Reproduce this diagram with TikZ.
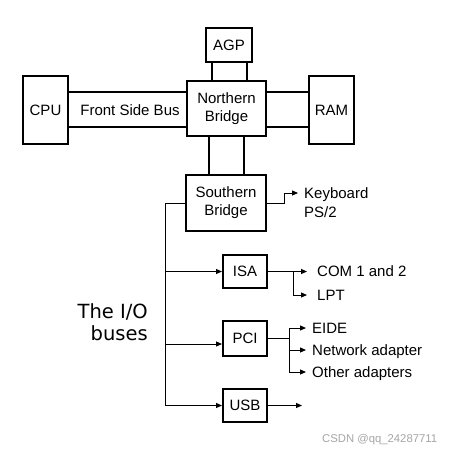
\documentclass[tikz,border=0pt]{standalone}
\usepackage{fontspec}
\setmainfont{Liberation Sans}
\newfontfamily\verdfont{DejaVu Sans}
\usetikzlibrary{arrows.meta}
\definecolor{wmgray}{RGB}{165,165,165}
\begin{document}
\begin{tikzpicture}[x=1pt,y=-1pt,
  box/.style={draw,line width=2pt,inner sep=0pt,font=\fontsize{15}{18}\selectfont,align=center},
  bus/.style={line width=2pt},
  conn/.style={line width=1pt},
  arr/.style={conn,-{Triangle[length=6pt,width=5pt]}},
  lbl/.style={inner sep=0pt,anchor=west,text height=10.7pt,text depth=0pt,font=\fontsize{15}{18}\selectfont}]
\useasboundingbox (0,0) rectangle (454,454);
% boxes
\node[box,minimum width=46pt,minimum height=34pt] (agp) at (229,45) {AGP};
\node[box,minimum width=79pt,minimum height=55pt] (nb) at (226.5,108.5) {Northern\\Bridge};
\node[box,minimum width=45pt,minimum height=68pt] (cpu) at (45.5,110) {CPU};
\node[box,minimum width=45pt,minimum height=68pt] (ram) at (331.5,110) {RAM};
\node[box,minimum width=80pt,minimum height=56pt] (sb) at (226,203) {Southern\\Bridge};
\node[box,minimum width=44pt,minimum height=33pt] (isa) at (245,271.5) {ISA};
\node[box,minimum width=44pt,minimum height=35pt] (pci) at (245,338.5) {PCI};
\node[box,minimum width=44pt,minimum height=33pt] (usb) at (245,405.5) {USB};
\node[inner sep=0pt,font=\fontsize{15}{18}\selectfont] (fsb) at (130,110) {Front Side Bus};
% labels
\node[lbl] (kb) at (304,193) {Keyboard};
\node[lbl] (ps) at (304,212) {PS/2};
\node[lbl] (com) at (317,271.5) {COM 1 and 2};
\node[lbl] (lpt) at (317,295) {LPT};
\node[lbl] (eide) at (312,328) {EIDE};
\node[lbl] (net) at (312,350) {Network adapter};
\node[lbl] (oth) at (312,372) {Other adapters};
\node[inner sep=0pt,anchor=base east,font=\verdfont\fontsize{19.5}{23}\selectfont] (io1) at (148,318) {The I/O};
\node[inner sep=0pt,anchor=base east,font=\verdfont\fontsize{19.5}{23}\selectfont] (io2) at (148,340) {buses};
\node[inner sep=0pt,anchor=base west,text=wmgray,font=\fontsize{11.3}{13}\selectfont] (wm) at (322,442) {CSDN @qq\_24287711};
% double buses
\draw[bus] ([yshift=18pt]cpu.east) -- ([yshift=18pt]cpu.east -| nb.west);
\draw[bus] ([yshift=-17pt]cpu.east) -- ([yshift=-17pt]cpu.east -| nb.west);
\draw[bus] ([yshift=18pt]ram.west) -- ([yshift=18pt]ram.west -| nb.east);
\draw[bus] ([yshift=-17pt]ram.west) -- ([yshift=-17pt]ram.west -| nb.east);
\draw[bus] ([xshift=-17pt]agp.south) -- ([xshift=-17pt]agp.south |- nb.north);
\draw[bus] ([xshift=18pt]agp.south) -- ([xshift=18pt]agp.south |- nb.north);
\draw[bus] ([xshift=-17.5pt]nb.south) -- ([xshift=-17.5pt]nb.south |- sb.north);
\draw[bus] ([xshift=17.5pt]nb.south) -- ([xshift=17.5pt]nb.south |- sb.north);
% keyboard
\draw[arr] (sb.east) -- ++(17,0) |- ([xshift=-6pt]kb.west);
% I/O bus
\coordinate (bt) at (165,203);
\draw[conn] (sb.west) -- (bt);
\draw[arr] (bt) |- (usb.west);
\draw[arr] (bt |- isa.west) -- (isa.west);
\draw[arr] ([yshift=-5.5pt]pci.west -| bt) -- ([yshift=-5.5pt]pci.west);
% ISA outputs
\draw[conn] (isa.east) -- ++(25,0) coordinate (isaj);
\draw[arr] (isaj) -- ([xshift=-10pt]com.west);
\draw[arr] (isaj) |- ([xshift=-10pt]lpt.west);
% PCI outputs
\draw[conn] (pci.east) -- ++(21,0) coordinate (pcij);
\draw[arr] (pcij) |- ([xshift=-6pt]eide.west);
\draw[arr] (pcij) |- ([xshift=-6pt]net.west);
\draw[arr] (pcij) |- ([xshift=-6pt]oth.west);
% USB output
\coordinate (usbout) at (302,405.5);
\draw[arr] (usb.east) -- (usbout);
\end{tikzpicture}
\end{document}
